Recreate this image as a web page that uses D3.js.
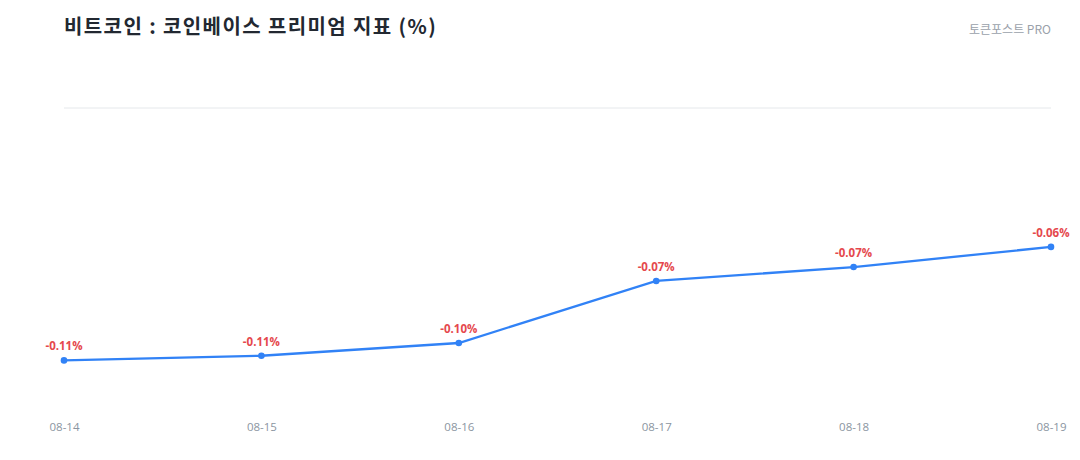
<!DOCTYPE html>
<html><head><meta charset="utf-8"/>
<title>코인베이스 프리미엄</title>
<script src="https://d3js.org/d3.v7.min.js"></script>
<style>
  body { margin: 0; padding: 0; background: #fff; }
  #chart { width: 1080px; height: 460px; }
  text { font-family: 'Noto Sans CJK KR', 'Noto Sans', sans-serif; }
</style>
</head>
<body>
<div id="chart"></div>
<script>
  // data
  const dates = ["08-14", "08-15", "08-16", "08-17", "08-18", "08-19"];
  const premium = [-0.109, -0.107, -0.1015, -0.0747, -0.0687, -0.060];
  const yDomain = [-0.13, 0];

  const W = 1080, H = 460;
  const svg = d3.select("#chart").append("svg")
      .attr("width", W).attr("height", H);

  const x = d3.scalePoint().domain(dates).range([64, 1051]);
  const y = d3.scaleLinear().domain(yDomain).range([409, 108]);

  // title + source
  svg.append("text")
      .attr("x", 64).attr("y", 34)
      .attr("font-size", 20).attr("font-weight", 700)
      .attr("letter-spacing", 1.4)
      .attr("fill", "#222831")
      .text("비트코인 : 코인베이스 프리미엄 지표 (%)");
  svg.append("text")
      .attr("x", 1051).attr("y", 34)
      .attr("text-anchor", "end")
      .attr("font-size", 12).attr("fill", "#9aa1aa")
      .text("토큰포스트 PRO");

  // top split line
  svg.append("line")
      .attr("x1", 64).attr("x2", 1051)
      .attr("y1", y(0)).attr("y2", y(0))
      .attr("stroke", "#e5e8eb").attr("stroke-width", 1);

  // x axis labels
  const xAxis = d3.axisBottom(x).tickSize(0).tickPadding(0);
  const gx = svg.append("g").attr("transform", "translate(0,423)").call(xAxis);
  gx.select(".domain").remove();
  gx.selectAll("text")
      .attr("font-size", 11.5).attr("fill", "#8b95a1")
      .style("font-family", "'Open Sans', sans-serif");

  const pts = dates.map((d, i) => ({ d, v: premium[i] }));

  svg.append("path")
      .datum(pts)
      .attr("fill", "none")
      .attr("stroke", "#3182f6")
      .attr("stroke-width", 2.3)
      .attr("d", d3.line().x(p => x(p.d)).y(p => y(p.v)));

  svg.selectAll("circle.pt").data(pts).enter().append("circle")
      .attr("class", "pt")
      .attr("cx", p => x(p.d)).attr("cy", p => y(p.v))
      .attr("r", 3.3).attr("fill", "#3182f6");

  svg.selectAll("text.lbl").data(pts).enter().append("text")
      .attr("class", "lbl")
      .attr("x", p => x(p.d)).attr("y", p => y(p.v) - 10)
      .attr("text-anchor", "middle")
      .attr("font-size", 11.5).attr("font-weight", 700)
      .style("font-family", "'Open Sans', sans-serif")
      .attr("fill", "#e5484d")
      .text(p => p.v.toFixed(2) + "%");
</script>
</body></html>
